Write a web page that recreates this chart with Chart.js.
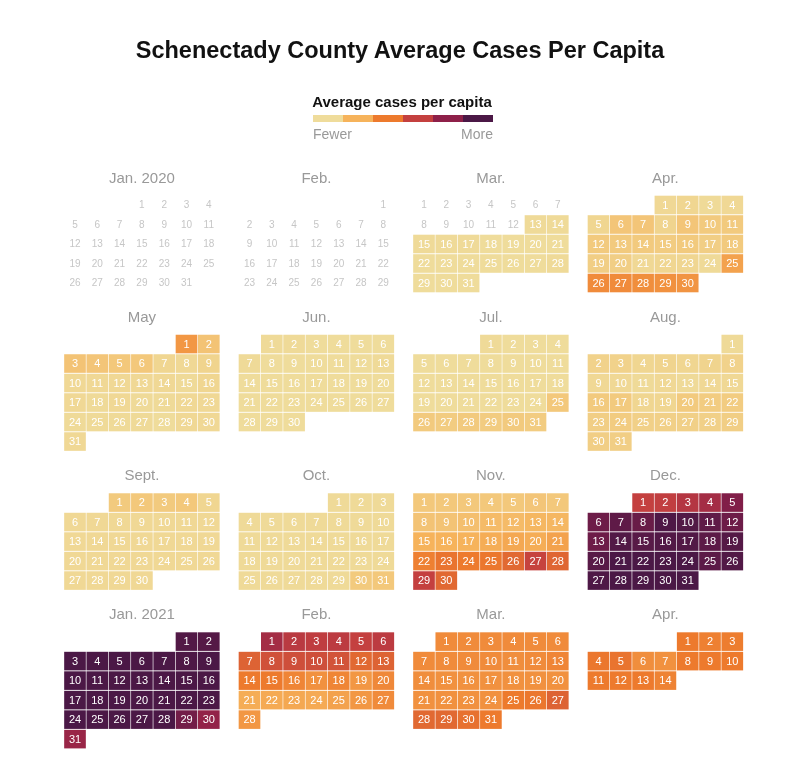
<!DOCTYPE html>
<html>
<head>
<meta charset="utf-8">
<script src="https://cdn.jsdelivr.net/npm/chart.js@4/dist/chart.umd.min.js"></script>
<style>
  body { margin: 0; background: #fff; }
  #wrap { position: relative; width: 800px; height: 764px; font-family: "Liberation Sans", Arial, sans-serif; }
  #c { position: absolute; left: 0; top: 0; }
  #title { position: absolute; top: 36px; left: 0; width: 800px; text-align: center; font-weight: bold; font-size: 23.5px; line-height: 28px; color: #111; }
  #legTitle { position: absolute; top: 93px; left: 302px; width: 200px; text-align: center; font-weight: bold; font-size: 15px; line-height: 18px; color: #111; white-space: nowrap; }
  #legBar { position: absolute; top: 115px; left: 313px; width: 180px; height: 7px; display: flex; }
  #legBar div { flex: 1; }
  #fewer { position: absolute; top: 126px; left: 313px; font-size: 14px; line-height: 16px; color: #999; }
  #more { position: absolute; top: 126px; left: 393px; width: 100px; text-align: right; font-size: 14px; line-height: 16px; color: #999; }
</style>
</head>
<body>
<div id="wrap">
  <canvas id="c" width="800" height="764"></canvas>
  <div id="title">Schenectady County Average Cases Per Capita</div>
  <div id="legTitle">Average cases per capita</div>
  <div id="legBar"></div>
  <div id="fewer">Fewer</div>
  <div id="more">More</div>
</div>
<script>
// ---------- data ----------
const monthLabels = ["Jan. 2020","Feb.","Mar.","Apr.","May","Jun.","Jul.","Aug.","Sept.","Oct.","Nov.","Dec.","Jan. 2021","Feb.","Mar.","Apr."];
const legendColors = ["#efdc9b","#f6b35b","#ed7a2d","#c4403f","#8e2049","#4b1846"];
const firstYear = 2020;
const lastDataDate = [2021, 3, 14]; // year, monthIndex, day

// values on the 1 (fewer) .. 6 (more) scale, one per day; null = no data
const jan2020 = [];
const feb2020 = [];
const mar2020 = [null,null,null,null,null,null,null,null,null,null,null,null,
  1.05,1.05, 1.05,1.05,1.05,1.0,1.0,1.0,1.0, 1.0,1.0,1.0,1.0,1.0,1.0,1.05, 1.0,1.0,1.0];
const apr2020 = [1.1,1.15,1.05,1.1, 1.15,1.55,1.55,1.2,1.55,1.45,1.45, 1.45,1.45,1.45,1.4,1.45,1.35,1.45,
  1.35,1.35,1.1,1.15,1.15,1.05,2.3, 2.7,2.7,2.65,2.6,2.55];
const may2020 = [2.5,1.6, 1.6,1.55,1.5,1.5,1.15,1.1,1.2, 1.1,1.1,1.1,1.1,1.1,1.05,1.15,
  1.1,1.05,1.1,1.05,1.05,1.1,1.1, 1.05,1.05,1.05,1.05,1.0,1.1,1.1, 1.1];
const jun2020 = [1.05,1.05,1.0,1.0,1.0,1.0, 1.05,1.0,1.0,1.0,1.0,1.0,1.05, 1.0,1.0,1.0,1.0,1.0,1.0,1.0,
  1.0,1.0,1.0,1.0,1.0,1.0,1.0, 1.0,1.0,1.0];
const jul2020 = [1.05,1.0,1.0,1.0, 1.0,1.0,1.0,1.0,1.0,1.0,1.0, 1.0,1.0,1.0,1.0,1.0,1.0,1.0,
  1.0,1.0,1.0,1.0,1.0,1.0,1.5, 1.45,1.4,1.45,1.4,1.45,1.4];
const aug2020 = [1.05, 1.25,1.25,1.15,1.2,1.15,1.2,1.25, 1.1,1.1,1.05,1.1,1.05,1.1,1.1,
  1.45,1.45,1.15,1.15,1.45,1.4,1.4, 1.35,1.4,1.3,1.3,1.3,1.3,1.35, 1.35,1.35];
const sep2020 = [1.45,1.5,1.45,1.5,1.15, 1.1,1.1,1.1,1.1,1.1,1.1,1.1, 1.1,1.1,1.1,1.1,1.1,1.1,1.1,
  1.1,1.1,1.1,1.1,1.1,1.1,1.1, 1.1,1.1,1.1,1.1];
const oct2020 = [1.05,1.05,1.05, 1.05,1.05,1.05,1.05,1.05,1.05,1.05, 1.05,1.05,1.05,1.05,1.05,1.05,1.05,
  1.05,1.05,1.05,1.05,1.05,1.05,1.05, 1.05,1.05,1.05,1.05,1.05,1.45,1.5];
const nov2020 = [1.5,1.5,1.5,1.5,1.5,1.55,1.5, 1.6,1.6,1.7,1.8,1.8,1.9,1.9, 2.0,2.0,2.0,2.1,2.2,2.1,2.3,
  2.9,3.1,3.0,3.05,3.3,3.95,3.35, 4.0,3.3];
const dec2020 = [4.0,4.05,4.3,4.6,5.2, 5.5,5.7,5.55,5.95,5.9,5.7,5.5, 5.5,5.9,5.8,5.9,5.9,5.75,5.85,
  5.8,6,6,6,6,5.75,5.9, 5.95,6,6,6,6];
const jan2021 = [5.9,5.85, 6,6,6,6,6,5.95,6, 6,6,6,6,6,6,6, 6,6,6,6,6,6,6, 6,6,6,6,6,5.4,4.9, 4.8];
const feb2021 = [4.6,4.2,4.1,4.15,4.0,4.15, 3.4,3.7,3.75,3.75,3.65,3.3,3.4, 3.0,3.0,2.8,2.6,2.8,2.5,2.75,
  2.1,2.15,2.2,2.15,2.3,2.5,2.7, 2.5];
const mar2021 = [2.7,2.7,2.7,2.7,2.7,2.7, 2.7,2.7,2.7,2.7,2.65,2.7,2.8, 2.65,2.6,2.6,2.6,2.6,2.6,2.6,
  2.6,2.6,2.6,2.6,3.0,3.05,3.4, 3.3,3.3,3.15,3.0];
const apr2021 = [3.0,2.9,2.95, 3.05,3.1,2.65,2.6,3.0,3.0,3.0, 3.0,3.0,3.0,2.85];

const monthValues = [jan2020,feb2020,mar2020,apr2020,may2020,jun2020,jul2020,aug2020,
  sep2020,oct2020,nov2020,dec2020,jan2021,feb2021,mar2021,apr2021];

// ---------- layout (style) ----------
const COL_PX = 22.3, ROW_PX = 19.5;
const PANEL_COLS = 174.5 / COL_PX;
const BLOCK_GAP = 2.13;
const ORIGIN_X = 75, ORIGIN_Y = 205;

// legend bar
const lb = document.getElementById('legBar');
legendColors.forEach(c => { const d = document.createElement('div'); d.style.background = c; lb.appendChild(d); });

function hexToRgb(h){ return [1,3,5].map(i => parseInt(h.slice(i,i+2),16)); }
const stopsRgb = legendColors.map(hexToRgb);
function colorFor(v){
  const t = Math.max(0, Math.min(5, v - 1));
  const i = Math.min(4, Math.floor(t)), f = t - i;
  const a = stopsRgb[i], b = stopsRgb[i+1];
  const c = a.map((x,k) => Math.round(x + (b[k]-x)*f));
  return `rgb(${c[0]},${c[1]},${c[2]})`;
}

const lastDate = new Date(lastDataDate[0], lastDataDate[1], lastDataDate[2]);
function monthInfo(m){
  const y = firstYear + Math.floor(m/12), mo = m % 12;
  return { y, mo, first: new Date(y, mo, 1).getDay(), nd: new Date(y, mo+1, 0).getDate() };
}
const blockRows = [0,1,2,3].map(r => {
  let mx = 0;
  for (let k = 0; k < 4; k++) { const mi = monthInfo(r*4+k); mx = Math.max(mx, Math.ceil((mi.first + mi.nd)/7)); }
  return mx;
});
const blockStart = [];
blockRows.forEach((n, r) => blockStart.push(r === 0 ? 0 : blockStart[r-1] + blockRows[r-1] + BLOCK_GAP));

const bars = [], greyDays = [], titles = [];
for (let m = 0; m < 16; m++) {
  const mi = monthInfo(m);
  const px = (m % 4) * PANEL_COLS, py = blockStart[Math.floor(m/4)];
  titles.push({ x: px + 3, y: py - 1.36, t: monthLabels[m] });
  for (let d = 1; d <= mi.nd; d++) {
    if (new Date(mi.y, mi.mo, d) > lastDate) continue;
    const idx = mi.first + d - 1, col = idx % 7, row = Math.floor(idx / 7);
    const v = monthValues[m][d-1];
    const cx = px + col, cy = py + row;
    if (v != null) bars.push({ x: cx, y: [cy - 0.46, cy + 0.46], v, d });
    else greyDays.push({ x: cx, y: cy, d });
  }
}

const textPlugin = {
  id: 'calendarText',
  afterDatasetsDraw(chart) {
    const ctx = chart.ctx, xs = chart.scales.x, ys = chart.scales.y;
    ctx.save();
    ctx.textAlign = 'center';
    ctx.textBaseline = 'middle';
    ctx.font = '15px "Liberation Sans", Arial, sans-serif';
    ctx.fillStyle = '#999';
    titles.forEach(t => ctx.fillText(t.t, xs.getPixelForValue(t.x), ys.getPixelForValue(t.y)));
    ctx.font = '10px "Liberation Sans", Arial, sans-serif';
    ctx.fillStyle = '#c6c6c6';
    greyDays.forEach(g => ctx.fillText(String(g.d), xs.getPixelForValue(g.x), ys.getPixelForValue(g.y) + 0.5));
    ctx.font = '11px "Liberation Sans", Arial, sans-serif';
    ctx.fillStyle = '#ffffff';
    const meta = chart.getDatasetMeta(0);
    meta.data.forEach((el, i) => {
      ctx.fillText(String(bars[i].d), el.x, (el.y + el.base) / 2 + 0.5);
    });
    ctx.restore();
  }
};

new Chart(document.getElementById('c'), {
  type: 'bar',
  data: {
    datasets: [{
      data: bars,
      backgroundColor: ctx => ctx.raw ? colorFor(ctx.raw.v) : '#ccc',
      borderWidth: 0,
      borderSkipped: false,
      barThickness: 21
    }]
  },
  options: {
    responsive: false,
    animation: false,
    events: [],
    layout: { padding: 0 },
    scales: {
      x: { type: 'linear', display: false, offset: false, min: -ORIGIN_X / COL_PX, max: (800 - ORIGIN_X) / COL_PX },
      y: { type: 'linear', display: false, reverse: true, min: -ORIGIN_Y / ROW_PX, max: (764 - ORIGIN_Y) / ROW_PX }
    },
    plugins: { legend: { display: false }, tooltip: { enabled: false }, title: { display: false } }
  },
  plugins: [textPlugin]
});
</script>
</body>
</html>
